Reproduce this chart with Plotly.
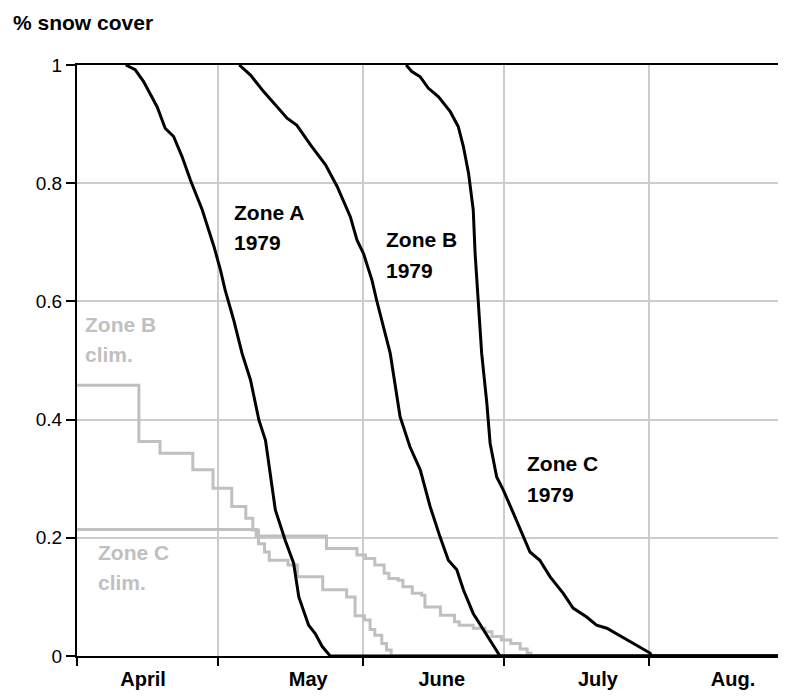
import plotly.graph_objects as go

# x values: days since April 1 (1979 season); y values: fraction of snow cover
MONTH_LABELS = ["April", "May", "June", "July", "Aug."]
MONTH_START_DAYS = [0, 30, 61, 91, 122]
MONTH_LABEL_DAYS = [14.1, 49.3, 77.8, 111.1, 139.9]
Y_TICKS = [0, 0.2, 0.4, 0.6, 0.8, 1.0]
Y_TICK_TEXT = ["0", "0.2", "0.4", "0.6", "0.8", "1"]

zone_a_days = [10.4, 12.4, 14.2, 17.1, 18.8, 20.6, 22.4, 24.2, 26.7, 29.2, 30.6, 31.6,
               33.4, 35.2, 37.0, 38.8, 40.2, 42.3, 44.4, 46.2, 47.3, 49.4, 50.8, 52.3, 54.0, 151.2]
zone_a_vals = [1.0, 0.992, 0.972, 0.929, 0.893, 0.879, 0.845, 0.805, 0.755, 0.693, 0.653, 0.619,
               0.569, 0.512, 0.467, 0.399, 0.365, 0.247, 0.196, 0.157, 0.100, 0.052, 0.038, 0.016, 0.0, 0.0]

zone_b_days = [34.6, 37.0, 39.8, 42.7, 44.8, 46.9, 49.8, 53.0, 55.5, 58.3, 59.7, 61.1, 62.9,
               63.9, 66.8, 68.9, 71.0, 73.2, 75.3, 77.4, 79.2, 81.0, 82.4, 84.5, 86.7, 88.4, 90.2, 151.2]
zone_b_vals = [1.0, 0.983, 0.955, 0.929, 0.910, 0.898, 0.865, 0.831, 0.794, 0.743, 0.704, 0.681, 0.636,
               0.602, 0.512, 0.405, 0.354, 0.315, 0.253, 0.202, 0.162, 0.146, 0.112, 0.072, 0.044, 0.024, 0.0, 0.0]

zone_c_days = [70.2, 71.4, 73.2, 74.9, 77.1, 79.6, 81.3, 82.4, 83.5, 84.5, 84.9, 85.6, 86.3,
               87.4, 88.1, 89.5, 90.9, 93.1, 95.2, 96.6, 98.7, 100.9, 103.7, 105.8, 108.7,
               110.8, 113.0, 115.4, 118.6, 122.2, 122.6, 151.2]
zone_c_vals = [1.0, 0.989, 0.980, 0.961, 0.946, 0.921, 0.896, 0.862, 0.817, 0.755, 0.681, 0.602, 0.512,
               0.428, 0.360, 0.303, 0.281, 0.241, 0.202, 0.176, 0.162, 0.134, 0.106, 0.081, 0.066,
               0.052, 0.047, 0.036, 0.021, 0.005, 0.0, 0.0]

clim_b_days = [0, 13.2, 17.7, 24.7, 29.0, 33.0, 36.0, 37.5, 38.7, 40.0, 41.0, 45.0, 47.0,
               52.4, 57.5, 59.3, 61.3, 62.5, 63.5, 65.0, 66.0, 67.0, 151.2]
clim_b_vals = [0.458, 0.363, 0.343, 0.315, 0.284, 0.253, 0.233, 0.213, 0.190, 0.176, 0.162, 0.154, 0.134,
               0.112, 0.100, 0.068, 0.061, 0.045, 0.035, 0.021, 0.010, 0.0, 0.0]

clim_c_days = [0, 38.2, 53.2, 59.7, 61.5, 63.5, 65.5, 66.5, 68.5, 69.5, 71.5, 73.5, 74.2,
               77.5, 80.5, 81.5, 84.5, 87.0, 88.5, 90.5, 92.5, 94.5, 96.0, 96.8, 151.2]
clim_c_vals = [0.214, 0.203, 0.182, 0.171, 0.165, 0.154, 0.140, 0.131, 0.128, 0.117, 0.106, 0.103, 0.083,
               0.069, 0.058, 0.052, 0.047, 0.041, 0.033, 0.027, 0.021, 0.012, 0.005, 0.0, 0.0]

GRAY = "#c0c0c0"
FONT = "Liberation Sans, Arial, sans-serif"

fig = go.Figure()
for xs, ys in [(clim_b_days, clim_b_vals), (clim_c_days, clim_c_vals)]:
    fig.add_trace(go.Scatter(x=xs, y=ys, mode="lines", line=dict(color=GRAY, width=3, shape="hv"),
                             showlegend=False, hoverinfo="skip"))
for xs, ys in [(zone_a_days, zone_a_vals), (zone_b_days, zone_b_vals), (zone_c_days, zone_c_vals)]:
    fig.add_trace(go.Scatter(x=xs, y=ys, mode="lines", line=dict(color="black", width=3),
                             showlegend=False, hoverinfo="skip"))

def label(x, y1, y2, l1, l2, color):
    for yy, txt in [(y1, l1), (y2, l2)]:
        fig.add_annotation(x=x, y=yy, xref="x", yref="y", text="<b>%s</b>" % txt, showarrow=False,
                           xanchor="left", yanchor="middle",
                           font=dict(family=FONT, size=21, color=color))

label(33.0, 0.751, 0.700, "Zone A", "1979", "black")
label(65.4, 0.704, 0.653, "Zone B", "1979", "black")
label(95.5, 0.325, 0.274, "Zone C", "1979", "black")
label(1.3, 0.561, 0.510, "Zone B", "clim.", GRAY)
label(4.1, 0.175, 0.124, "Zone C", "clim.", GRAY)

fig.add_annotation(x=-66 / 709, y=1.072, xref="paper", yref="paper", text="<b>% snow cover</b>",
                   showarrow=False, xanchor="left", yanchor="middle",
                   font=dict(family=FONT, size=21, color="black"))

# the page body adds an 8px margin, so the figure is 8px smaller on each side
fig.update_layout(
    width=778, height=689,
    margin=dict(l=69, r=0, t=57, b=41, autoexpand=False),
    plot_bgcolor="white", paper_bgcolor="white",
    font=dict(family=FONT, color="black"),
    xaxis=dict(range=[0, 151.2], tickmode="array", tickvals=MONTH_LABEL_DAYS, ticktext=MONTH_LABELS,
               ticks="outside", ticklen=4, tickcolor="rgba(0,0,0,0)", automargin=False,
               tickfont=dict(family=FONT, size=20, color="black", weight="bold"),
               showgrid=False, zeroline=False, showline=True, linecolor="black", linewidth=2,
               mirror=True,
               minor=dict(tickmode="array", tickvals=MONTH_START_DAYS, ticks="outside", ticklen=8,
                          tickwidth=2, tickcolor="black", showgrid=True, gridcolor="#cccccc",
                          gridwidth=2)),
    yaxis=dict(range=[0, 1], tickmode="array", tickvals=Y_TICKS, ticktext=Y_TICK_TEXT,
               ticks="outside", ticklen=9, tickwidth=2, tickcolor="black", automargin=False,
               tickfont=dict(family=FONT, size=19, color="black"),
               showgrid=True, gridcolor="#cccccc", gridwidth=2, zeroline=False,
               showline=True, linecolor="black", linewidth=2),
)

fig.write_html("out.html")
